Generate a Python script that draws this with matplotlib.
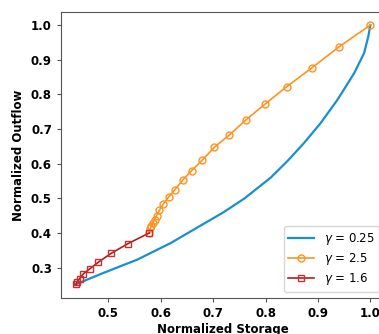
import matplotlib
matplotlib.use("Agg")
import matplotlib.pyplot as plt

# 数据
blue_S = [0.438, 0.491, 0.555, 0.619, 0.670, 0.720, 0.760, 0.810, 0.842, 0.873,
          0.905, 0.937, 0.969, 0.988, 0.996, 1.0]
blue_O = [0.252, 0.285, 0.323, 0.371, 0.416, 0.460, 0.500, 0.560, 0.608, 0.659,
          0.717, 0.784, 0.861, 0.919, 0.967, 1.0]

orange_S = [0.578, 0.580, 0.582, 0.585, 0.588, 0.592, 0.597, 0.605, 0.615, 0.627, 0.642,
            0.659, 0.679, 0.702, 0.731, 0.763, 0.799, 0.840, 0.888, 0.940, 1.0]
orange_O = [0.400, 0.413, 0.421, 0.429, 0.438, 0.450, 0.465, 0.484, 0.504, 0.525, 0.553,
            0.580, 0.610, 0.647, 0.683, 0.727, 0.772, 0.822, 0.876, 0.937, 1.0]

red_S = [0.438, 0.440, 0.445, 0.452, 0.464, 0.481, 0.505, 0.537, 0.578]
red_O = [0.252, 0.258, 0.268, 0.282, 0.296, 0.316, 0.341, 0.369, 0.400]

labels = [r"$\gamma$ = 0.25", r"$\gamma$ = 2.5", r"$\gamma$ = 1.6"]
xticks = [0.5, 0.6, 0.7, 0.8, 0.9, 1.0]
yticks = [0.3, 0.4, 0.5, 0.6, 0.7, 0.8, 0.9, 1.0]

fig = plt.figure(figsize=(3.79, 3.34), dpi=100)
# 右侧坐标轴超出画布（原图被裁切）
ax = fig.add_axes([0.161, 0.108, 0.855, 0.856])

ax.plot(blue_S, blue_O, color="#1a8fd0", lw=1.6, label=labels[0])
ax.plot(orange_S, orange_O, color="#ff9220", lw=1.2, marker="o", ms=5,
        mfc="none", mec="#ff9220", mew=1.0, label=labels[1])
ax.plot(red_S, red_O, color="#b01c1c", lw=1.2, marker="s", ms=5,
        mfc="none", mec="#c83030", mew=1.0, label=labels[2])

ax.set_xticks(xticks)
ax.set_yticks(yticks)
ax.set_xlim(0.4095, 1.028)
ax.set_ylim(0.2125, 1.0375)

for lab in ax.get_xticklabels() + ax.get_yticklabels():
    lab.set_fontweight("bold")
    lab.set_fontsize(8.5)
ax.tick_params(length=3, color="#555555")

ax.set_xlabel("Normalized Storage", fontsize=8.5, fontweight="bold", labelpad=2)
ax.set_ylabel("Normalized Outflow", fontsize=8.5, fontweight="bold", labelpad=4)

for sp in ax.spines.values():
    sp.set_color("#555555")

ax.legend(loc="lower right", fontsize=8.5, handlelength=2.2, labelspacing=0.35)

fig.savefig("out.png", dpi=100)
